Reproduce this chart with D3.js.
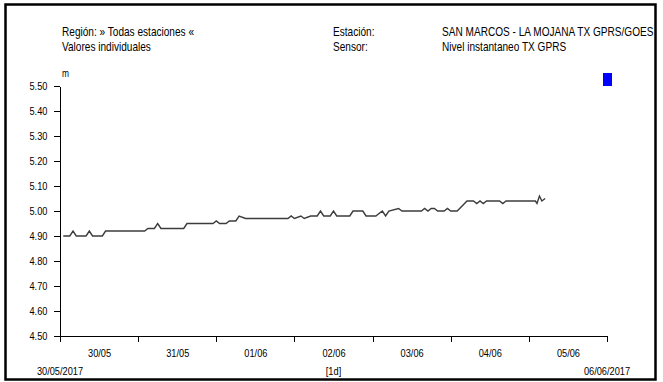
<!DOCTYPE html>
<html>
<head>
<meta charset="utf-8">
<script src="https://cdn.jsdelivr.net/npm/d3@7"></script>
<style>
  body { margin: 0; background: #fff; }
  svg text { font-family: "Liberation Sans", Arial, sans-serif; fill: #000; }
</style>
</head>
<body>
<div id="chart"></div>
<script>
'use strict';

var times = [
  '2017-05-30 01:00', '2017-05-30 03:00', '2017-05-30 04:00', '2017-05-30 05:00', '2017-05-30 08:00',
  '2017-05-30 09:00', '2017-05-30 10:00', '2017-05-30 13:00', '2017-05-30 14:00', '2017-05-31 02:00',
  '2017-05-31 03:00', '2017-05-31 05:00', '2017-05-31 06:00', '2017-05-31 07:00', '2017-05-31 14:00',
  '2017-05-31 15:00', '2017-05-31 23:00', '2017-06-01 00:00', '2017-06-01 01:00', '2017-06-01 03:00',
  '2017-06-01 04:00', '2017-06-01 06:00', '2017-06-01 07:00', '2017-06-01 09:00', '2017-06-01 22:00',
  '2017-06-01 23:00', '2017-06-02 00:00', '2017-06-02 02:00', '2017-06-02 03:00', '2017-06-02 05:00',
  '2017-06-02 07:00', '2017-06-02 08:00', '2017-06-02 09:00', '2017-06-02 11:00', '2017-06-02 12:00',
  '2017-06-02 13:00', '2017-06-02 17:00', '2017-06-02 18:00', '2017-06-02 21:00', '2017-06-02 22:00',
  '2017-06-03 01:00', '2017-06-03 03:00', '2017-06-03 04:00', '2017-06-03 05:00', '2017-06-03 08:00',
  '2017-06-03 09:00', '2017-06-03 15:00', '2017-06-03 16:00', '2017-06-03 17:00', '2017-06-03 18:00',
  '2017-06-03 19:00', '2017-06-03 20:00', '2017-06-03 22:00', '2017-06-03 23:00', '2017-06-04 00:00',
  '2017-06-04 02:00', '2017-06-04 05:00', '2017-06-04 07:00', '2017-06-04 08:00', '2017-06-04 09:00',
  '2017-06-04 10:00', '2017-06-04 11:00', '2017-06-04 15:00', '2017-06-04 16:00', '2017-06-04 17:00',
  '2017-06-05 02:00', '2017-06-05 02:30', '2017-06-05 03:15', '2017-06-05 04:00', '2017-06-05 05:00'
];

var levels = [
  4.90, 4.90, 4.92, 4.90, 4.90,
  4.92, 4.90, 4.90, 4.92, 4.92,
  4.93, 4.93, 4.95, 4.93, 4.93,
  4.95, 4.95, 4.96, 4.95, 4.95,
  4.96, 4.96, 4.98, 4.97, 4.97,
  4.98, 4.97, 4.98, 4.97, 4.98,
  4.98, 5.00, 4.98, 4.98, 5.00,
  4.98, 4.98, 5.00, 5.00, 4.98,
  4.98, 5.00, 4.98, 5.00, 5.01,
  5.00, 5.00, 5.01, 5.00, 5.01,
  5.01, 5.00, 5.00, 5.01, 5.00,
  5.00, 5.04, 5.04, 5.03, 5.04,
  5.03, 5.04, 5.04, 5.03, 5.04,
  5.04, 5.03, 5.06, 5.04, 5.05
];

var dayTicks = ['2017-05-30', '2017-05-31', '2017-06-01', '2017-06-02', '2017-06-03', '2017-06-04', '2017-06-05', '2017-06-06'];
var yTicks = [4.5, 4.6, 4.7, 4.8, 4.9, 5.0, 5.1, 5.2, 5.3, 5.4, 5.5];

var headerLeft = ['Región: » Todas estaciones «', 'Valores individuales'];
var headerKeys = ['Estación:', 'Sensor:'];
var headerVals = ['SAN MARCOS - LA MOJANA TX GPRS/GOES', 'Nivel instantaneo TX GPRS'];

var chart = {};
chart.w = 663;
chart.h = 382;
chart.squeeze = 0.84;   // the original uses a narrow font
chart.plot = {left: 60, right: 607, top: 86, bottom: 336};

var parseTime = d3.timeParse('%Y-%m-%d %H:%M');
var parseDay = d3.timeParse('%Y-%m-%d');

var data = times.map(function(t, i) {
  return {t: parseTime(t), v: levels[i]};
});
var days = dayTicks.map(parseDay);
var noons = days.slice(0, -1).map(function(d) { return d3.timeHour.offset(d, 12); });

var svg = d3.select('#chart').append('svg')
  .attr('width', chart.w)
  .attr('height', chart.h);

function narrowText(g, px, py, s, anchor) {
  return g.append('text')
    .attr('transform', 'translate(' + px + ',' + py + ') scale(' + chart.squeeze + ',1)')
    .attr('text-anchor', anchor || 'start')
    .text(s);
}

// frame
svg.append('rect')
  .attr('x', 5.5).attr('y', 4.5)
  .attr('width', 650).attr('height', 375)
  .attr('fill', 'none')
  .attr('stroke', '#000')
  .attr('stroke-width', 2.5);

var x = d3.scaleTime()
  .domain([days[0], days[days.length - 1]])
  .range([chart.plot.left, chart.plot.right]);

var y = d3.scaleLinear()
  .domain([4.5, 5.5])
  .range([chart.plot.bottom, chart.plot.top]);

// header texts
var head = svg.append('g').style('font-size', '12px');
headerLeft.forEach(function(s, i) { narrowText(head, 62, 36 + i * 15, s); });
headerKeys.forEach(function(s, i) { narrowText(head, 333, 36 + i * 15, s); });
headerVals.forEach(function(s, i) { narrowText(head, 442, 36 + i * 15, s); });

// unit
narrowText(svg.append('g').style('font-size', '10px'), 62, 77, 'm');

// legend swatch
svg.append('rect')
  .attr('x', 603).attr('y', 73)
  .attr('width', 9).attr('height', 13)
  .attr('fill', '#0000ff');

// y axis
var yAxis = svg.append('g')
  .attr('transform', 'translate(' + chart.plot.left + ',0)')
  .call(d3.axisLeft(y).tickValues(yTicks).tickSize(6).tickSizeOuter(0).tickPadding(9).tickFormat(d3.format('.2f')));

// x axis with day ticks
var xAxis = svg.append('g')
  .attr('transform', 'translate(0,' + chart.plot.bottom + ')')
  .call(d3.axisBottom(x).tickValues(days).tickSize(6).tickSizeOuter(0).tickFormat(''));

// day labels centred between ticks
var xLabels = svg.append('g')
  .attr('transform', 'translate(0,' + chart.plot.bottom + ')')
  .call(d3.axisBottom(x).tickValues(noons).tickSize(0).tickPadding(13).tickFormat(d3.timeFormat('%d/%m')));
xLabels.select('.domain').remove();

[yAxis, xAxis].forEach(function(g) {
  g.selectAll('path, line').attr('stroke', '#000').attr('shape-rendering', 'crispEdges');
});
svg.selectAll('.tick text')
  .style('font-family', null)
  .style('font-size', '11px')
  .attr('fill', '#000')
  .attr('transform', 'scale(' + chart.squeeze + ',1)');

// range labels under the axis
var foot = svg.append('g').style('font-size', '11px');
narrowText(foot, x(days[0]), 375, d3.timeFormat('%d/%m/%Y')(days[0]), 'middle');
narrowText(foot, x(days[days.length - 1]), 375, d3.timeFormat('%d/%m/%Y')(days[days.length - 1]), 'middle');
narrowText(foot, (chart.plot.left + chart.plot.right) / 2, 375, '[1d]', 'middle');

// series
var line = d3.line()
  .x(function(d) { return x(d.t); })
  .y(function(d) { return y(d.v); });

svg.append('path')
  .datum(data)
  .attr('d', line)
  .attr('fill', 'none')
  .attr('stroke', '#3c3c3c')
  .attr('stroke-width', 1.4);
</script>
</body>
</html>
